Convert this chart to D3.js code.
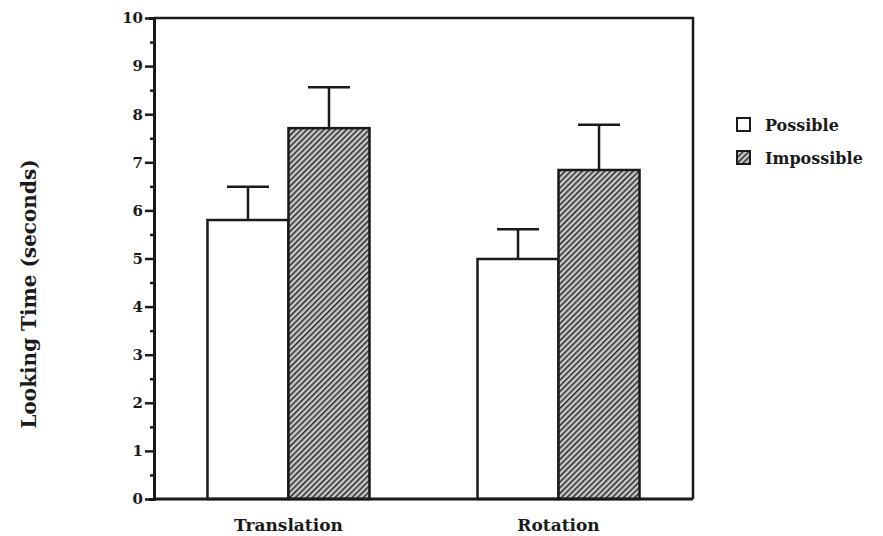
<!DOCTYPE html>
<html>
<head>
<meta charset="utf-8">
<script src="https://cdn.jsdelivr.net/npm/d3@7"></script>
<style>
  body { margin: 0; background: #fff; }
  svg text { font-family: "DejaVu Serif", "Liberation Serif", serif; font-weight: bold; fill: #1a1a1a; }
</style>
</head>
<body>
<svg id="chart" width="883" height="536"></svg>
<script>
// data
const groups = ["Translation", "Rotation"];
const conditions = ["Possible", "Impossible"];
const possibleMeans = [5.8, 4.99];
const impossibleMeans = [7.71, 6.84];
const possibleErr = [0.69, 0.62];
const impossibleErr = [0.85, 0.94];
const yTicks = [0, 1, 2, 3, 4, 5, 6, 7, 8, 9, 10];

const svg = d3.select("#chart");
const plotLeft = 154, plotRight = 693, plotTop = 18, plotBottom = 499;

let defs = svg.append("defs");
let pat = defs.append("pattern")
  .attr("id", "hatch")
  .attr("patternUnits", "userSpaceOnUse")
  .attr("width", 4).attr("height", 4)
  .attr("patternTransform", "rotate(45)");
pat.append("rect").attr("width", 4).attr("height", 4).attr("fill", "#c8c8c8");
pat.append("line").attr("x1", 0).attr("y1", 0).attr("x2", 0).attr("y2", 4)
  .attr("stroke", "#1f1f1f").attr("stroke-width", 2.8);

let y = d3.scaleLinear().domain([0, 10]).range([plotBottom, plotTop]);
let x0 = d3.scaleBand().domain(groups).range([plotLeft, plotRight]).paddingInner(0.4).paddingOuter(0.198);
let x1 = d3.scaleBand().domain(conditions).range([0, x0.bandwidth()]);

let rows = [];
groups.forEach((g, i) => {
  rows.push({g: g, c: "Possible", v: possibleMeans[i], e: possibleErr[i]});
  rows.push({g: g, c: "Impossible", v: impossibleMeans[i], e: impossibleErr[i]});
});

// frame (top and right)
svg.append("path")
  .attr("d", `M${plotLeft},${plotTop}H${plotRight}V${plotBottom}`)
  .attr("fill", "none").attr("stroke", "#1a1a1a").attr("stroke-width", 2.5);

// error bars (drawn first, bar outline covers base)
let eb = svg.append("g").attr("stroke", "#1a1a1a").attr("stroke-width", 2.5);
rows.forEach(d => {
  let cx = x0(d.g) + x1(d.c) + x1.bandwidth() / 2;
  eb.append("line").attr("x1", cx).attr("x2", cx).attr("y1", y(d.v)).attr("y2", y(d.v + d.e));
  eb.append("line").attr("x1", cx - 21).attr("x2", cx + 21).attr("y1", y(d.v + d.e)).attr("y2", y(d.v + d.e));
});

svg.append("g").selectAll("rect")
  .data(rows)
  .join("rect")
  .attr("x", d => x0(d.g) + x1(d.c))
  .attr("y", d => y(d.v))
  .attr("width", x1.bandwidth())
  .attr("height", d => plotBottom - y(d.v))
  .attr("fill", d => d.c == "Possible" ? "#fff" : "url(#hatch)")
  .attr("stroke", "#1a1a1a")
  .attr("stroke-width", 2.5);

// y axis with half-unit minor ticks
let yAxis = svg.append("g")
  .attr("transform", `translate(${plotLeft},0)`)
  .call(d3.axisLeft(y).tickValues(d3.range(0, 10.01, 0.5)).tickSize(5)
    .tickFormat(d => yTicks.includes(d) ? d : ""));
yAxis.select(".domain").attr("stroke", "#1a1a1a").attr("stroke-width", 3);
yAxis.selectAll(".tick line").attr("stroke", "#1a1a1a").attr("stroke-width", 2.5)
  .attr("x2", d => Number.isInteger(d) ? -9 : -4);
yAxis.selectAll(".tick text")
  .attr("x", -11)
  .style("font-size", "15px")
  .style("font-family", "'DejaVu Serif', serif")
  .style("font-weight", "bold")
  .attr("fill", "#1a1a1a");

// x axis baseline
svg.append("line").attr("x1", plotLeft).attr("x2", plotRight).attr("y1", plotBottom).attr("y2", plotBottom)
  .attr("stroke", "#1a1a1a").attr("stroke-width", 3);

svg.append("g").selectAll("text")
  .data(groups)
  .join("text")
  .attr("x", d => x0(d) + x0.bandwidth() / 2)
  .attr("y", 531)
  .attr("text-anchor", "middle")
  .style("font-size", "17px")
  .text(d => d);

svg.append("text")
  .attr("transform", "translate(36,294) rotate(-90)")
  .attr("text-anchor", "middle")
  .style("font-size", "20px")
  .text("Looking Time  (seconds)");

// legend
let leg = svg.append("g");
conditions.forEach((c, i) => {
  leg.append("rect")
    .attr("x", 737).attr("y", 118 + i * 33)
    .attr("width", 13).attr("height", 13)
    .attr("fill", c == "Possible" ? "#fff" : "url(#hatch)")
    .attr("stroke", "#1a1a1a").attr("stroke-width", 2);
  leg.append("text")
    .attr("x", 765).attr("y", 131 + i * 33)
    .style("font-size", "16px")
    .text(c);
});
</script>
</body>
</html>
